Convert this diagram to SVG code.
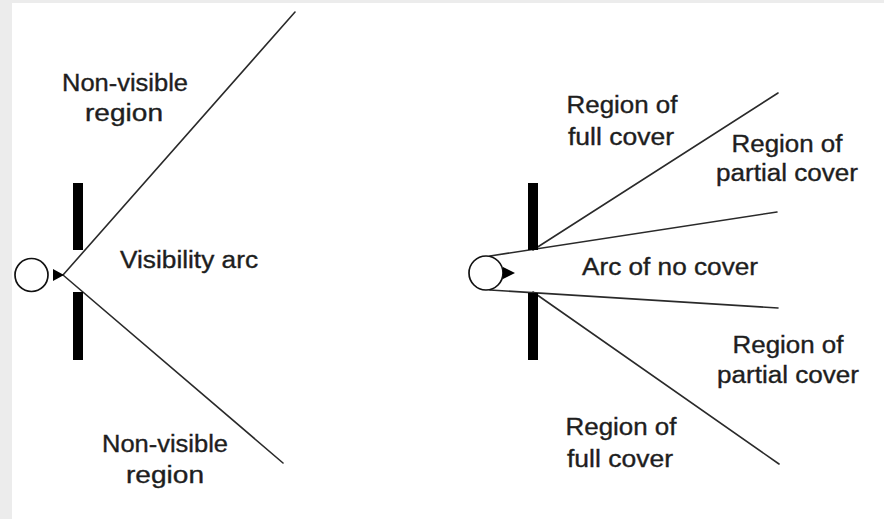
<svg xmlns="http://www.w3.org/2000/svg" width="884" height="519" viewBox="0 0 884 519">
  <style>
    .lbl { font-family: "Liberation Sans", Arial, sans-serif; font-size: 23px; fill: #1e1e1e; stroke: #1e1e1e; stroke-width: 0.35; text-anchor: middle; }
    .ray { stroke: #2a2a2a; stroke-width: 1.6; fill: none; stroke-linecap: round; }
    .bar { fill: #000; }
    .eye { fill: #fff; stroke: #111; stroke-width: 1.7; }
    .tip { fill: #000; }
  </style>
  <!-- page frame -->
  <rect x="0" y="0" width="884" height="519" fill="#ececec"/>
  <rect x="12" y="3" width="872" height="516" fill="#fff"/>

  <!-- sight lines -->
  <g id="connectors">
    <line class="ray" x1="63" y1="275" x2="295" y2="12"/>
    <line class="ray" x1="63" y1="275" x2="283" y2="463"/>
    <line class="ray" x1="490" y1="256" x2="777" y2="212"/>
    <line class="ray" x1="490" y1="290" x2="778" y2="308"/>
    <line class="ray" x1="533" y1="250" x2="778" y2="93"/>
    <line class="ray" x1="533" y1="292" x2="779" y2="464"/>
  </g>

  <!-- left: visibility arc through an opening -->
  <g id="wall-left">
    <rect class="bar" x="73" y="183" width="10" height="67"/>
    <rect class="bar" x="73" y="292" width="10" height="68"/>
  </g>
  <g id="observer-left">
    <circle class="eye" cx="31.5" cy="275" r="16.5"/>
    <polygon class="tip" points="53,269 64,275 53,281"/>
  </g>

  <g id="label-nonvisible-top">
    <text class="lbl" x="125" y="91" textLength="126" lengthAdjust="spacingAndGlyphs">Non-visible</text>
    <text class="lbl" x="124" y="121" textLength="78" lengthAdjust="spacingAndGlyphs">region</text>
  </g>
  <g id="label-visibility-arc">
    <text class="lbl" x="189" y="268" textLength="138" lengthAdjust="spacingAndGlyphs">Visibility arc</text>
  </g>
  <g id="label-nonvisible-bottom">
    <text class="lbl" x="165" y="452" textLength="126" lengthAdjust="spacingAndGlyphs">Non-visible</text>
    <text class="lbl" x="165" y="483" textLength="78" lengthAdjust="spacingAndGlyphs">region</text>
  </g>

  <!-- right: cover regions -->
  <g id="wall-right">
    <rect class="bar" x="528" y="183" width="10" height="67"/>
    <rect class="bar" x="528" y="293" width="10" height="67"/>
  </g>
  <g id="observer-right">
    <circle class="eye" cx="486" cy="273" r="17"/>
    <polygon class="tip" points="503,267 515,273 503,279"/>
  </g>

  <g id="label-full-top">
    <text class="lbl" x="622" y="113" textLength="111" lengthAdjust="spacingAndGlyphs">Region of</text>
    <text class="lbl" x="621" y="145" textLength="106" lengthAdjust="spacingAndGlyphs">full cover</text>
  </g>
  <g id="label-partial-top">
    <text class="lbl" x="787" y="152" textLength="111" lengthAdjust="spacingAndGlyphs">Region of</text>
    <text class="lbl" x="787" y="181" textLength="142" lengthAdjust="spacingAndGlyphs">partial cover</text>
  </g>
  <g id="label-no-cover">
    <text class="lbl" x="670" y="275" textLength="176" lengthAdjust="spacingAndGlyphs">Arc of no cover</text>
  </g>
  <g id="label-partial-bottom">
    <text class="lbl" x="788" y="353" textLength="111" lengthAdjust="spacingAndGlyphs">Region of</text>
    <text class="lbl" x="788" y="383" textLength="142" lengthAdjust="spacingAndGlyphs">partial cover</text>
  </g>
  <g id="label-full-bottom">
    <text class="lbl" x="621" y="435" textLength="111" lengthAdjust="spacingAndGlyphs">Region of</text>
    <text class="lbl" x="620" y="467" textLength="106" lengthAdjust="spacingAndGlyphs">full cover</text>
  </g>
</svg>
